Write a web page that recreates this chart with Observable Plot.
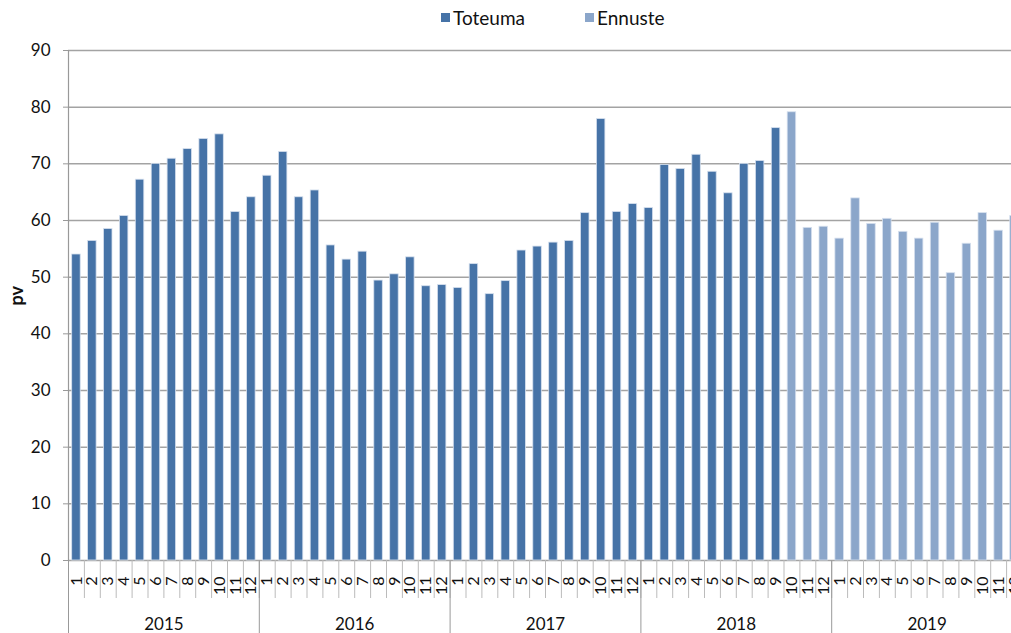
<!DOCTYPE html>
<html>
<head>
<meta charset="utf-8">
<script src="https://cdn.jsdelivr.net/npm/d3@7"></script>
<script src="https://cdn.jsdelivr.net/npm/@observablehq/plot@0.6"></script>
<style>
  html, body { margin: 0; padding: 0; background: #fff; overflow: hidden; width: 1011px; height: 633px; }
  #legend { position: relative; height: 36px; font-family: Lato, sans-serif; font-size: 19px; color: #111; }
  #legend .sw { position: absolute; top: 13px; width: 9px; height: 9px; }
  #legend .lb { position: absolute; top: 6px; line-height: 24px; }
  #chart svg { max-width: none !important; }
</style>
</head>
<body>
<div id="legend"></div>
<div id="chart"></div>
<script>
const years = [2015, 2016, 2017, 2018, 2019];
const monthLabels = ["1","2","3","4","5","6","7","8","9","10","11","12"];
const seriesNames = ["Toteuma", "Ennuste"];
const seriesColors = ["#4673a7", "#8ba6ca"];
// Toteuma: 2015-1 .. 2018-9
const toteuma = [
  54.0, 56.4, 58.5, 60.8, 67.2, 70.0, 70.9, 72.6, 74.4, 75.2, 61.5, 64.1,
  67.9, 72.1, 64.1, 65.3, 55.6, 53.1, 54.5, 49.4, 50.5, 53.5, 48.4, 48.6,
  48.1, 52.3, 47.0, 49.3, 54.7, 55.4, 56.1, 56.4, 61.3, 77.9, 61.5, 62.9,
  62.2, 69.8, 69.1, 71.6, 68.6, 64.8, 70.0, 70.5, 76.3
];
// Ennuste: 2018-10 .. 2019-12
const ennuste = [
  79.1, 58.7, 58.9,
  56.8, 63.9, 59.4, 60.3, 58.0, 56.8, 59.6, 50.7, 55.9, 61.3, 58.2, 60.8
];
const yTicks = [0, 10, 20, 30, 40, 50, 60, 70, 80, 90];

const table = [];
toteuma.forEach((v, k) => table.push({i: k, value: v, series: seriesNames[0]}));
ennuste.forEach((v, k) => table.push({i: toteuma.length + k, value: v, series: seriesNames[1]}));
const nMonths = years.length * monthLabels.length;
const monthRows = d3.range(nMonths).map(i => ({i, label: monthLabels[i % 12]}));

// legend
const legend = document.getElementById("legend");
const legendPos = [[441, 453], [585, 597]];
seriesNames.forEach((name, k) => {
  const sw = document.createElement("div");
  sw.className = "sw"; sw.style.left = legendPos[k][0] + "px"; sw.style.background = seriesColors[k];
  const lb = document.createElement("div");
  lb.className = "lb"; lb.style.left = legendPos[k][1] + "px"; lb.textContent = name;
  legend.appendChild(sw); legend.appendChild(lb);
});

const chart = Plot.plot({
  width: 1022,
  height: 597,
  marginLeft: 68,
  marginRight: 0,
  marginTop: 14,
  marginBottom: 73,
  style: {fontFamily: "Lato, sans-serif", fontSize: "16px", color: "#111", background: "#fff", overflow: "visible", maxWidth: "none"},
  x: {type: "linear", domain: [0, nMonths], axis: null},
  y: {domain: [0, 90], axis: null},
  color: {domain: seriesNames, range: seriesColors},
  marks: [
    Plot.gridY(yTicks, {stroke: "#a3a3a3", strokeOpacity: 1, strokeWidth: 1.5}),
    Plot.rectY(table, {x1: "i", x2: d => d.i + 1, y: "value", fill: "series",
      insetLeft: 3.7, insetRight: 3.7, stroke: "#d6e0ee", strokeWidth: 0.8}),
    Plot.ruleX([0], {stroke: "#999", strokeWidth: 1.2}),
    Plot.axisY({ticks: yTicks, tickSize: 5, tickPadding: 13, stroke: "#999", fontSize: 17, label: null}),
    Plot.text(["pv"], {frameAnchor: "left", dx: -51, rotate: -90, fontWeight: "bold", fontSize: 18}),
    Plot.axisX({ticks: d3.range(nMonths + 1), tickSize: 38, tickFormat: () => "", stroke: "#bbb", label: null}),
    Plot.axisX({ticks: d3.range(0, nMonths + 1, 12), tickSize: 76, tickFormat: () => "", stroke: "#999", label: null}),
    Plot.text(monthRows, {x: d => d.i + 0.5, text: "label", frameAnchor: "bottom", dy: 16,
      rotate: -90, textAnchor: "end", lineAnchor: "middle", fontSize: 16}),
    Plot.text(years, {x: (d, k) => k * 12 + 6, text: d => String(d), frameAnchor: "bottom", dy: 69, fontSize: 17})
  ]
});
document.getElementById("chart").appendChild(chart);
</script>
</body>
</html>
